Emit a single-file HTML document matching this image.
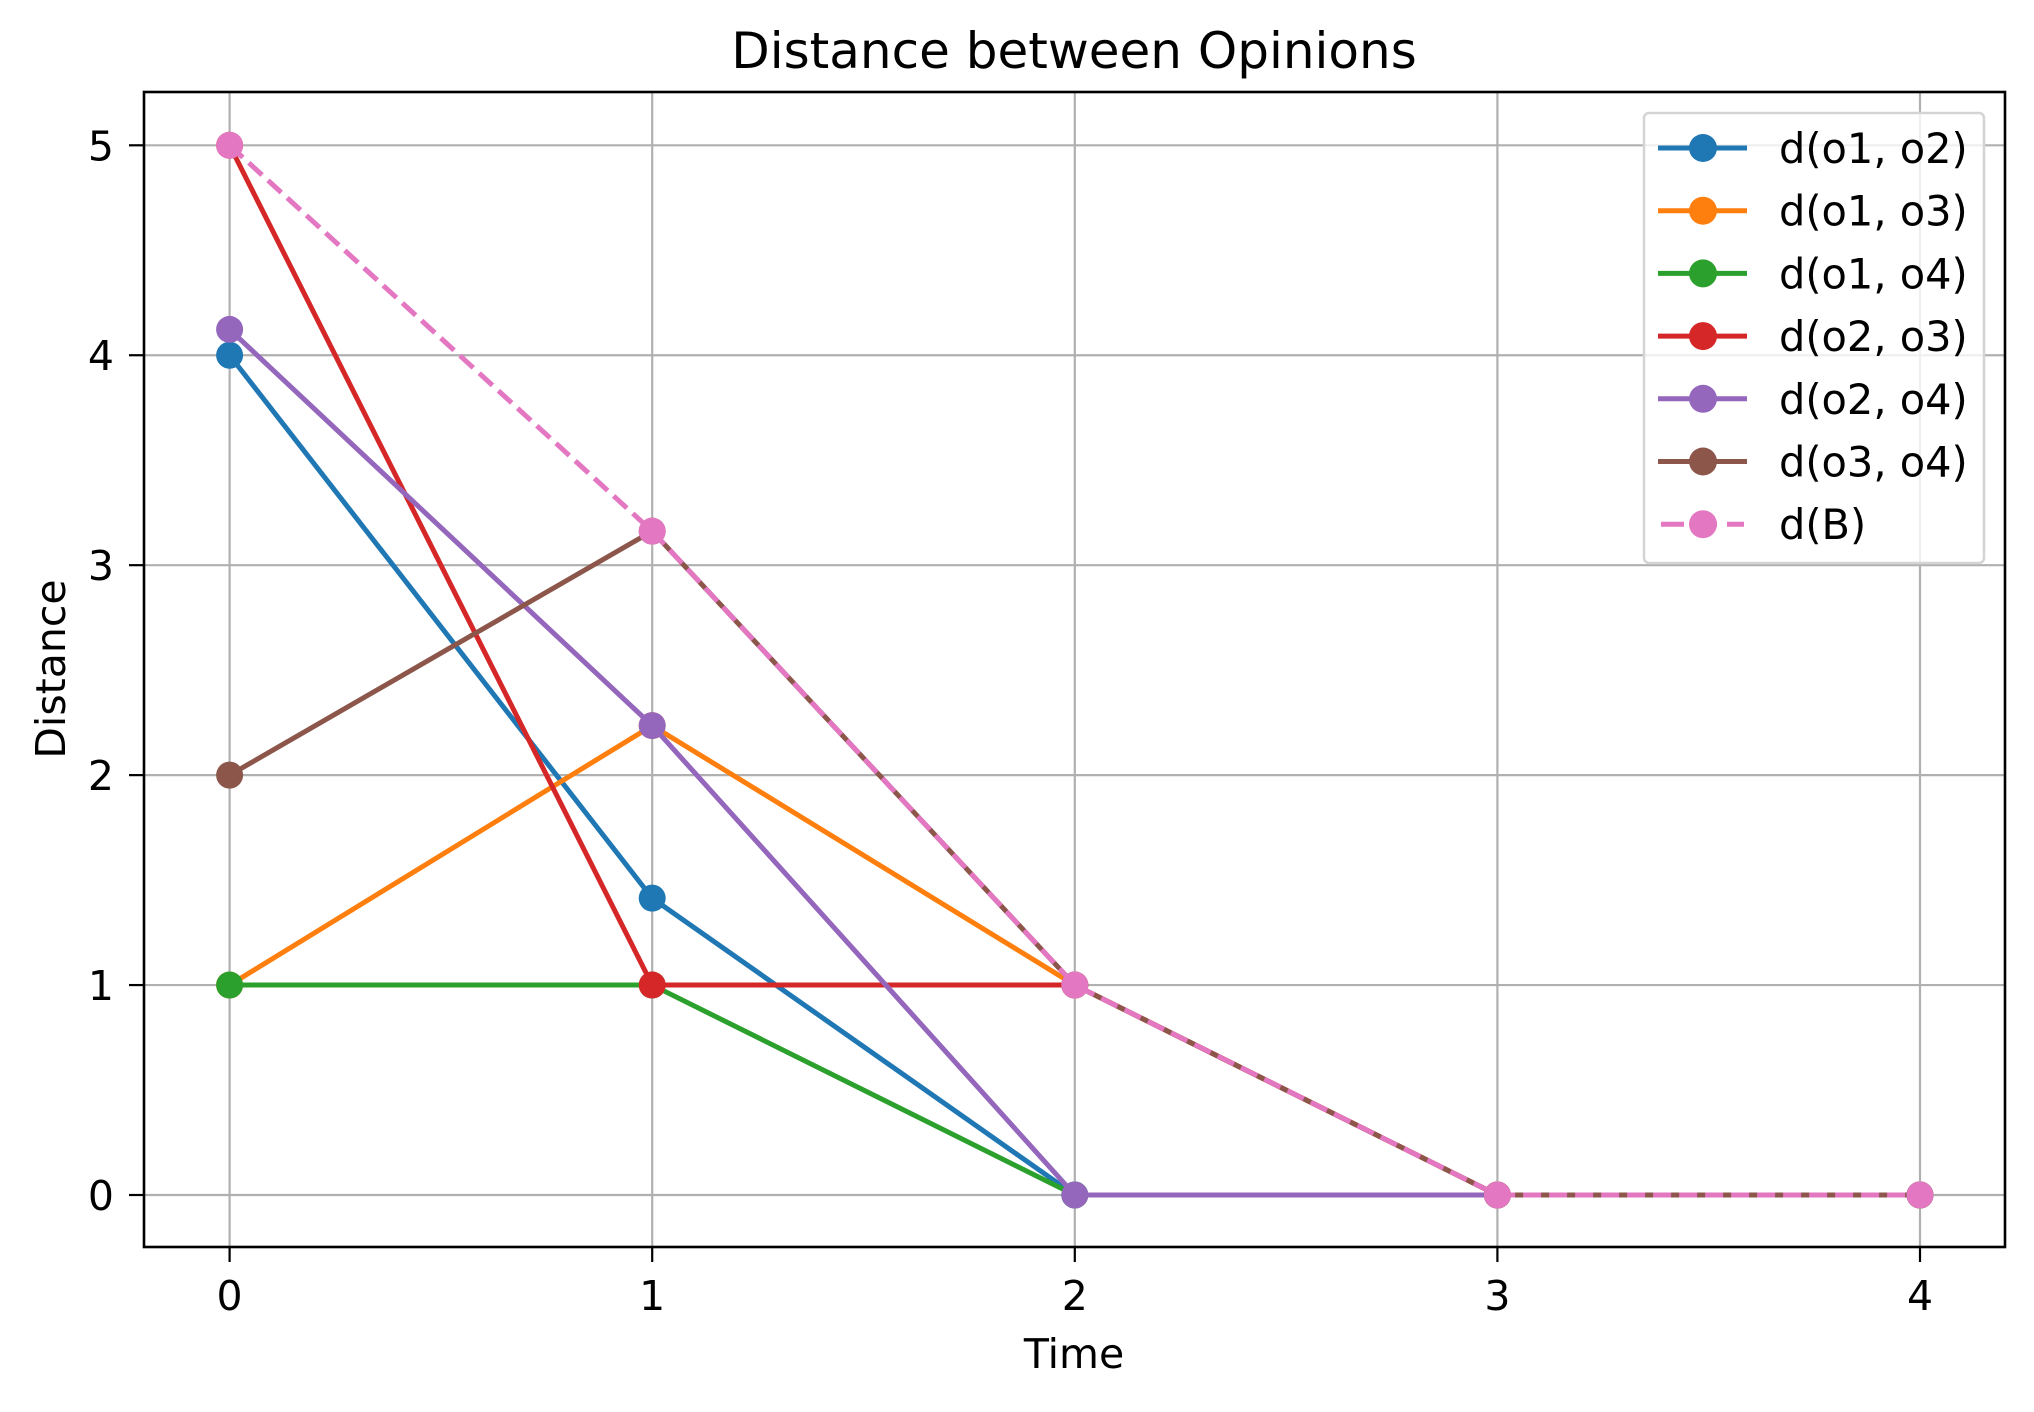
<!DOCTYPE html>
<html><head><meta charset="utf-8"><style>
html,body{margin:0;padding:0;background:#fff;}
svg text{font-family:"DejaVu Sans","Liberation Sans",sans-serif;fill:#000;}
</style></head><body>
<svg id="chart" width="2034" height="1407" viewBox="0 0 2034 1407" xmlns="http://www.w3.org/2000/svg">
<rect width="2034" height="1407" fill="#fff"/>
<g id="grid"></g>
<g id="series"></g>
<rect x="144" y="92" width="1861" height="1155" fill="none" stroke="#000" stroke-width="2.6"/>
<g id="ticks"></g>
<text x="1074" y="68" font-size="50" text-anchor="middle">Distance between Opinions</text>
<text x="1074" y="1368" font-size="41" text-anchor="middle">Time</text>
<text transform="translate(65,669) rotate(-90)" font-size="41" text-anchor="middle">Distance</text>
<g id="legend"></g>
</svg>
<script>
const times = [0, 1, 2, 3, 4];
const seriesNames = ["d(o1, o2)", "d(o1, o3)", "d(o1, o4)", "d(o2, o3)", "d(o2, o4)", "d(o3, o4)", "d(B)"];
const s_o1o2 = [4, 1.414, 0, 0, 0];
const s_o1o3 = [1, 2.236, 1, 0, 0];
const s_o1o4 = [1, 1, 0, 0, 0];
const s_o2o3 = [5, 1, 1, 0, 0];
const s_o2o4 = [4.123, 2.236, 0, 0, 0];
const s_o3o4 = [2, 3.162, 1, 0, 0];
const s_B = [5, 3.162, 1, 0, 0];
const xTicks = [0, 1, 2, 3, 4];
const yTicks = [0, 1, 2, 3, 4, 5];

const allSeries = [s_o1o2, s_o1o3, s_o1o4, s_o2o3, s_o2o4, s_o3o4, s_B];
const colors = ["#1f77b4", "#ff7f0e", "#2ca02c", "#d62728", "#9467bd", "#8c564b", "#e377c2"];
const NS = "http://www.w3.org/2000/svg";
const X = v => 229.6 + (v - 0) * (1920 - 229.6) / 4;
const Y = v => 1195 - v * (1195 - 145.3) / 5;
function mk(tag, attrs, parent) {
  const e = document.createElementNS(NS, tag);
  for (const k in attrs) e.setAttribute(k, attrs[k]);
  parent.appendChild(e);
  return e;
}
const grid = document.getElementById("grid");
const ticks = document.getElementById("ticks");
xTicks.forEach(t => {
  const g = mk("line", {x1: X(t), x2: X(t), y1: 92, y2: 1247, stroke: "#b0b0b0", "stroke-width": 2.2}, grid);
  
  
  const tk = mk("line", {x1: X(t), x2: X(t), y1: 1247, y2: 1262, stroke: "#000", "stroke-width": 2.2}, ticks);
  
  
  const lb = mk("text", {x: X(t), y: 1310, "font-size": 41, "text-anchor": "middle"}, ticks);
  lb.textContent = t;
  
  
});
yTicks.forEach(t => {
  const g = mk("line", {x1: 144, x2: 2005, y1: Y(t), y2: Y(t), stroke: "#b0b0b0", "stroke-width": 2.2}, grid);
  
  
  const tk = mk("line", {x1: 129, x2: 144, y1: Y(t), y2: Y(t), stroke: "#000", "stroke-width": 2.2}, ticks);
  
  
  const lb = mk("text", {x: 114, y: Y(t) + 15, "font-size": 41, "text-anchor": "end"}, ticks);
  lb.textContent = t;
  
  
});
const sg = document.getElementById("series");
allSeries.forEach((vals, i) => {
  const pts = vals.map((v, j) => X(times[j]) + "," + Y(v)).join(" ");
  const attrs = {points: pts, fill: "none", stroke: colors[i], "stroke-width": 5, "stroke-linejoin": "round"};
  if (i === 6) attrs["stroke-dasharray"] = "18,8";
  const pl = mk("polyline", attrs, sg);
  
  
  vals.forEach((v, j) => {
    const c = mk("circle", {cx: X(times[j]), cy: Y(v), r: 13.5, fill: colors[i]}, sg);
    
    
  });
});
const lg = document.getElementById("legend");
const box = mk("rect", {x: 1644, y: 113, width: 340, height: 450, rx: 5, fill: "#fff", "fill-opacity": 0.8, stroke: "#d4d4d4", "stroke-width": 2.5}, lg);


seriesNames.forEach((n, i) => {
  const y = 148 + i * 62.7;
  const la = {x1: 1658, x2: 1747, y1: y, y2: y, stroke: colors[i], "stroke-width": 5};
  if (i === 6) { la["stroke-dasharray"] = "23,10,23,10,23"; la.x1 = 1661; la.x2 = 1744; }
  const l = mk("line", la, lg);
  
  
  const c = mk("circle", {cx: 1703, cy: y, r: 14, fill: colors[i]}, lg);
  
  
  const t = mk("text", {x: 1779, y: y + 15, "font-size": 41.5}, lg);
  t.textContent = n;
  
  
});
</script>
</body></html>
